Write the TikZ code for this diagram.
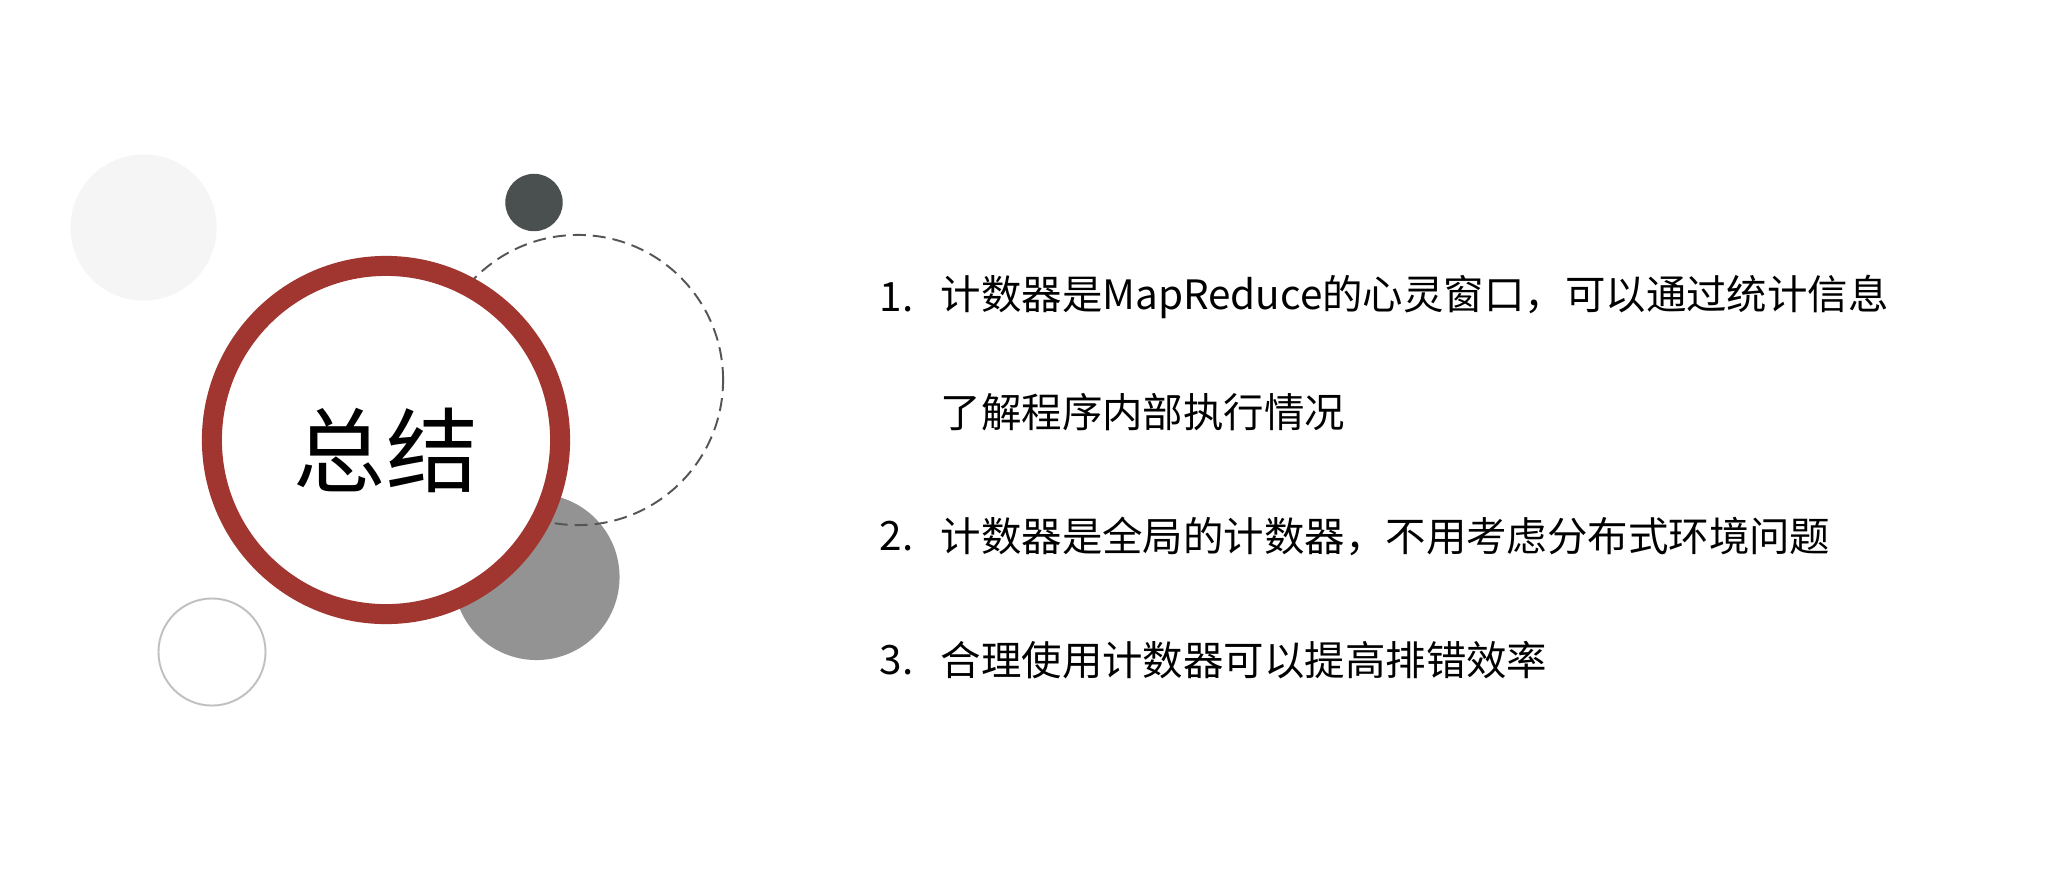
\documentclass[tikz,border=0pt]{standalone}
\usepackage{fontspec}
\setmainfont{Noto Sans CJK SC}
\definecolor{ringred}{RGB}{160,54,47}
\definecolor{darkdot}{RGB}{74,80,80}
\definecolor{midgray}{RGB}{147,147,147}
\definecolor{palegray}{RGB}{245,245,245}
\definecolor{dashgray}{RGB}{85,85,85}
\definecolor{thingray}{RGB}{192,192,192}
\begin{document}
\begin{tikzpicture}[x=0.01cm,y=-0.01cm,
  item/.style={anchor=west,inner sep=0pt,font=\fontsize{11.5pt}{13pt}\selectfont},
  num/.style={anchor=west,inner sep=0pt,font=\fontsize{11.5pt}{13pt}\selectfont}]
 \useasboundingbox[fill=white](0,0) rectangle (2070,878);
 % circles on the left
 \fill[palegray](143.6,227.5) circle[radius=0.73cm];
 \fill[darkdot](534,202.5) circle[radius=0.287cm];
 \fill[midgray](536.5,577) circle[radius=0.83cm];
 \draw[dashgray,line width=0.55pt,dash pattern=on 0.13cm off 0.07cm](578,380) circle[radius=1.45cm];
 \draw[ringred,fill=white,line width=0.2cm](386,440) circle[radius=1.74cm];
 \draw[thingray,line width=0.55pt](212,652) circle[radius=0.535cm];
 \node[inner sep=0pt,font=\fontsize{26.2pt}{30pt}\selectfont] (title) at (386,450) {总结};
 % list on the right
 \node[num] (n1) at (879,297) {1.};
 \node[item] (t1) at (940,297) {计数器是MapReduce的心灵窗口，可以通过统计信息};
 \node[item] (t1b) at (940,412) {了解程序内部执行情况};
 \node[num] (n2) at (879,536) {2.};
 \node[item] (t2) at (940,536) {计数器是全局的计数器，不用考虑分布式环境问题};
 \node[num] (n3) at (879,660) {3.};
 \node[item] (t3) at (940,660) {合理使用计数器可以提高排错效率};
\end{tikzpicture}
\end{document}
